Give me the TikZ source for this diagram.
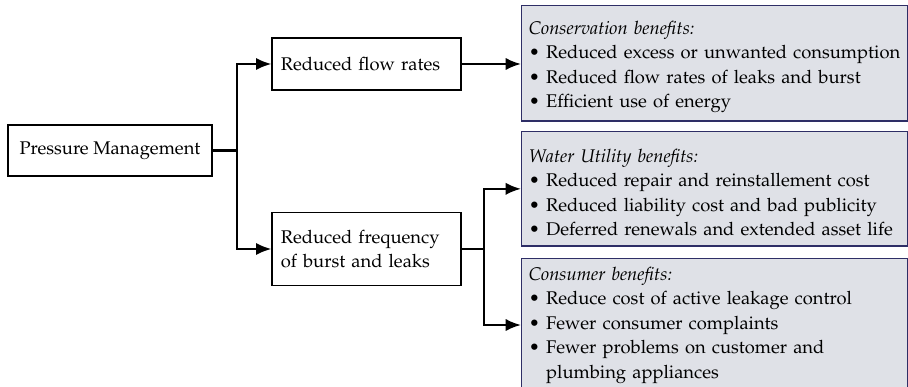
\documentclass[tikz,border=0pt]{standalone}
\usepackage[T1]{fontenc}
\usepackage{mathpazo}
\usetikzlibrary{positioning, arrows.meta}
\definecolor{benefitfill}{HTML}{DFE1E7}
\definecolor{benefitline}{HTML}{2E2E66}

\begin{document}
\begin{tikzpicture}[
    x=0.49pt, y=-0.49pt,
    font=\fontsize{9}{12}\selectfont,
    box/.style={draw, line width=0.6pt, align=center},
    stage/.style={box, text width=84pt, align=left, inner xsep=4.3pt},
    benefit/.style={draw=benefitline, fill=benefitfill, line width=0.7pt, text width=182pt, align=left, inner xsep=3.5pt, inner ysep=4pt, anchor=north west},
    arr/.style={-{Latex[length=7.5pt,width=6pt]}, line width=1.1pt}
]
\useasboundingbox (0,0) rectangle (908,387);
\clip (0,0) rectangle (908,387);

% Source
\node[box, minimum width=100pt, minimum height=25pt] (pm) at (110,150.5) {Pressure Management};

% Effects
\node[stage, minimum height=25.5pt] (flow) at (366.5,64) {Reduced flow rates};
\node[stage, minimum height=36pt] (freq) at (366.5,249) {Reduced frequency\\of burst and leaks};

% Benefits
\node[benefit, minimum height=56pt] (cons) at (521,5) {\rule{0pt}{10pt}\textit{Conservation benefits:}\\
    \textbullet\ Reduced excess or unwanted consumption\\
    \textbullet\ Reduced flow rates of leaks and burst\\
    \textbullet\ Efficient use of energy};
\node[benefit, minimum height=56pt, below=4.5pt of cons] (util) {\rule{0pt}{10pt}\textit{Water Utility benefits:}\\
    \textbullet\ Reduced repair and reinstallement cost\\
    \textbullet\ Reduced liability cost and bad publicity\\
    \textbullet\ Deferred renewals and extended asset life};
\node[benefit, below=5.5pt of util] (consumer) {\textit{Consumer benefits:}\\
    \textbullet\ Reduce cost of active leakage control\\
    \textbullet\ Fewer consumer complaints\\
    \textbullet\ Fewer problems on customer and\\
    \hphantom{\textbullet\ }plumbing appliances};

% Connections
\draw[arr] (pm.east) -- ++(12pt,0) |- (flow.west);
\draw[arr] (pm.east) -- ++(12pt,0) |- (freq.west);
\draw[arr] (flow.east) -- (flow.east -| cons.west);
\draw[arr] (freq.east) -- ++(11pt,0) |- (util.west);
\draw[arr] (freq.east) -- ++(11pt,0) |- (consumer.west);

\end{tikzpicture}
\end{document}
